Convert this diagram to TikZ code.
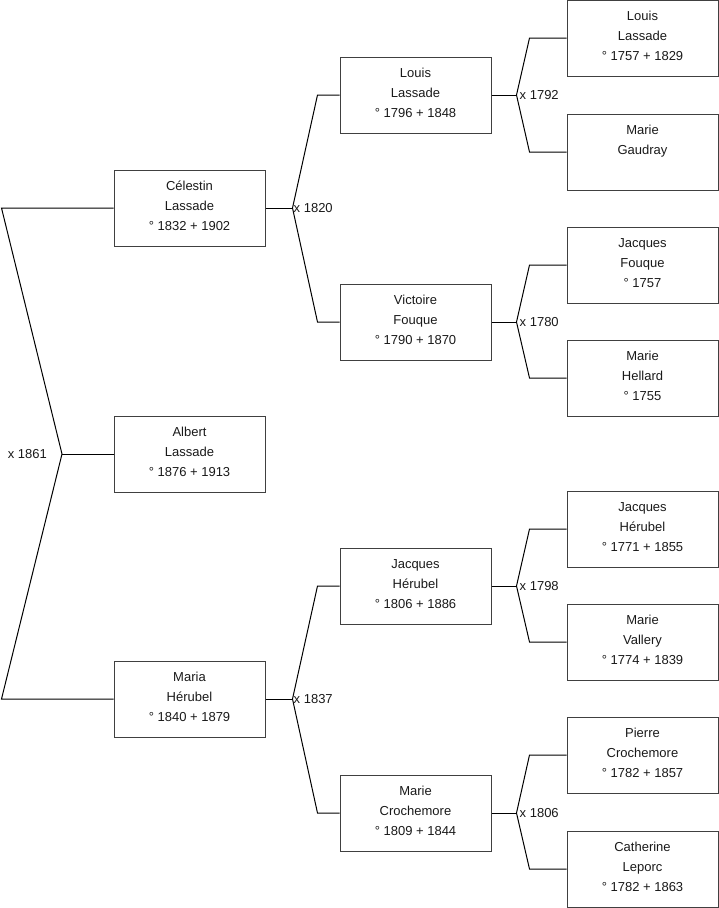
\documentclass[tikz,border=0pt]{standalone}
\usepackage{fontspec}
\setmainfont{Liberation Sans}
\newcommand{\dpfix}{\rule[-4.3pt]{0pt}{4.3pt}}
\begin{document}
\begin{tikzpicture}[x=1pt,y=-1pt,
  person/.style={draw=black!75,line width=1pt,rectangle,minimum width=151pt,minimum height=76pt,inner sep=0pt,align=center,font=\fontsize{13}{20}\selectfont,text=black!90},
  link/.style={draw=black,line width=1pt},
  marr/.style={anchor=west,inner sep=1pt,font=\fontsize{13}{20}\selectfont,text=black!90}]
\useasboundingbox (0,0) rectangle (719,908);
% column 1
\node[person] (c1) at (189.5,208) {Célestin\\Lassade\\° 1832 + 1902\dpfix};
\node[person] (a)  at (189.5,454) {Albert\\Lassade\\° 1876 + 1913\dpfix};
\node[person] (m1) at (189.5,699) {Maria\\Hérubel\\° 1840 + 1879\dpfix};
% column 2
\node[person] (l2)  at (415.5,95)  {Louis\\Lassade\\° 1796 + 1848\dpfix};
\node[person] (v2)  at (415.5,322) {Victoire\\Fouque\\° 1790 + 1870\dpfix};
\node[person] (j2)  at (415.5,586) {Jacques\\Hérubel\\° 1806 + 1886\dpfix};
\node[person] (mc2) at (415.5,813) {Marie\\Crochemore\\° 1809 + 1844\dpfix};
% column 3
\node[person] (l3)  at (642.5,38)  {Louis\\Lassade\\° 1757 + 1829\dpfix};
\node[person] (g3)  at (642.5,152) {Marie\\Gaudray\\\phantom{0}\dpfix};
\node[person] (jf3) at (642.5,265) {Jacques\\Fouque\\° 1757\dpfix};
\node[person] (mh3) at (642.5,378) {Marie\\Hellard\\° 1755\dpfix};
\node[person] (jh3) at (642.5,529) {Jacques\\Hérubel\\° 1771 + 1855\dpfix};
\node[person] (mv3) at (642.5,642) {Marie\\Vallery\\° 1774 + 1839\dpfix};
\node[person] (pc3) at (642.5,755) {Pierre\\Crochemore\\° 1782 + 1857\dpfix};
\node[person] (cl3) at (642.5,869) {Catherine\\Leporc\\° 1782 + 1863\dpfix};
% junctions
\coordinate (j0) at (62,454);
\coordinate (ja) at ([xshift=27pt]c1.east);
\coordinate (jb) at ([xshift=27pt]m1.east);
\coordinate (jc) at ([xshift=25pt]l2.east);
\coordinate (jd) at ([xshift=25pt]v2.east);
\coordinate (je) at ([xshift=25pt]j2.east);
\coordinate (jf) at ([xshift=25pt]mc2.east);
% connectors
\draw[link] (a.west) -- (j0);
\draw[link] (c1.west) -- ([xshift=-112pt]c1.west) -- (j0) -- ([xshift=-112pt]m1.west) -- (m1.west);
\draw[link] (c1.east) -- (ja);
\draw[link] (l2.west) -- ([xshift=-22pt]l2.west) -- (ja) -- ([xshift=-22pt]v2.west) -- (v2.west);
\draw[link] (m1.east) -- (jb);
\draw[link] (j2.west) -- ([xshift=-22pt]j2.west) -- (jb) -- ([xshift=-22pt]mc2.west) -- (mc2.west);
\draw[link] (l2.east) -- (jc);
\draw[link] (l3.west) -- ([xshift=-37pt]l3.west) -- (jc) -- ([xshift=-37pt]g3.west) -- (g3.west);
\draw[link] (v2.east) -- (jd);
\draw[link] (jf3.west) -- ([xshift=-37pt]jf3.west) -- (jd) -- ([xshift=-37pt]mh3.west) -- (mh3.west);
\draw[link] (j2.east) -- (je);
\draw[link] (jh3.west) -- ([xshift=-37pt]jh3.west) -- (je) -- ([xshift=-37pt]mv3.west) -- (mv3.west);
\draw[link] (mc2.east) -- (jf);
\draw[link] (pc3.west) -- ([xshift=-37pt]pc3.west) -- (jf) -- ([xshift=-37pt]cl3.west) -- (cl3.west);
% marriage labels
\node[marr,anchor=east] (x0) at ([xshift=-14pt]j0) {x 1861};
\node[marr] (xa) at (ja) {x 1820};
\node[marr] (xb) at (jb) {x 1837};
\node[marr] (xc) at ([xshift=2pt]jc) {x 1792};
\node[marr] (xd) at ([xshift=2pt]jd) {x 1780};
\node[marr] (xe) at ([xshift=2pt]je) {x 1798};
\node[marr] (xf) at ([xshift=2pt]jf) {x 1806};
\end{tikzpicture}
\end{document}
